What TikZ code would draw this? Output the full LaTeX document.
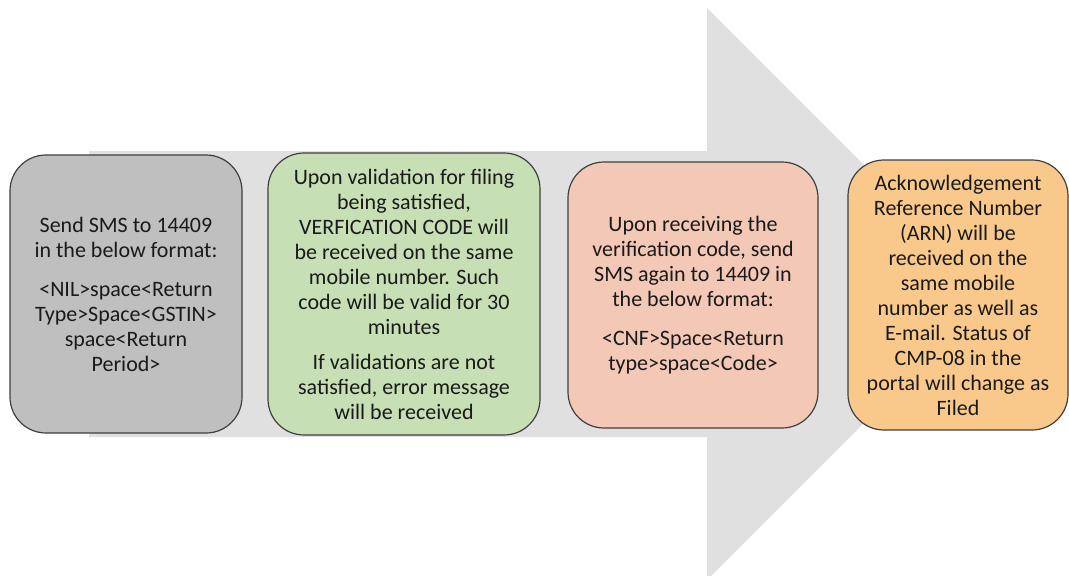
\documentclass[tikz,border=0pt]{standalone}
\usepackage{fontspec}
\setmainfont{Carlito}
\definecolor{arrowgray}{HTML}{E0E0E0}
\definecolor{boxgray}{HTML}{BFBFBF}
\definecolor{boxgreen}{HTML}{C6DFB5}
\definecolor{boxsalmon}{HTML}{F4C8B6}
\definecolor{boxorange}{HTML}{F9C98B}
\definecolor{edgegray}{HTML}{3F3F3F}
\definecolor{txt}{HTML}{1A1A1A}
\begin{document}
\begin{tikzpicture}[x=1pt,y=-1pt,
  stepbox/.style={draw=edgegray, line width=1.2pt, rounded corners=36pt,
    inner sep=0pt, align=center, text=txt,
    font=\fontsize{22}{25}\selectfont},
]
\useasboundingbox (0,0) rectangle (1069,576);
\fill[white] (0,0) rectangle (1069,576);
% big arrow
\fill[arrowgray] (89,151) -- (707,151) -- (707,8) -- (993,294) -- (707,580) -- (707,437) -- (89,437) -- cycle;
% boxes
\node[stepbox, fill=boxgray, minimum width=232pt, minimum height=278pt] (b1) at (126,294)
  {Send SMS to 14409\\in the below format:\\[14pt]
   <NIL>space<Return\\Type>Space<GSTIN>\\space<Return\\Period>};
\node[stepbox, fill=boxgreen, minimum width=272pt, minimum height=282pt] (b2) at (404,294)
  {Upon validation for filing\\being satisfied,\\VERFICATION CODE will\\be received on the same\\mobile number. Such\\code will be valid for 30\\minutes\\[10pt]
   If validations are not\\satisfied, error message\\will be received};
\node[stepbox, fill=boxsalmon, minimum width=250pt, minimum height=266pt] (b3) at (693,295)
  {Upon receiving the\\verification code, send\\SMS again to 14409 in\\the below format:\\[14pt]
   <CNF>Space<Return\\type>space<Code>};
\node[stepbox, fill=boxorange, minimum width=220pt, minimum height=270pt] (b4) at (958,295)
  {Acknowledgement\\Reference Number\\(ARN) will be\\received on the\\same mobile\\number as well as\\E-mail. Status of\\CMP-08 in the\\portal will change as\\Filed};
\end{tikzpicture}
\end{document}
